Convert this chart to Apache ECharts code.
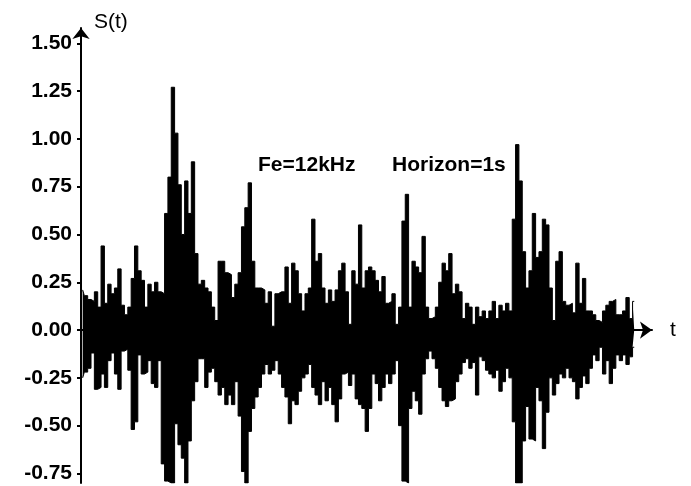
<!DOCTYPE html>
<html><head><meta charset="utf-8">
<script src="https://cdn.jsdelivr.net/npm/echarts@6/dist/echarts.min.js"></script>
<style>html,body{margin:0;padding:0;background:#fff}#c{width:691px;height:486px}</style>
</head><body><div id="c"></div>
<script>
// Upper and lower envelope of S(t), one value per time slot
const upper = [
0.21,0.18,0.16,0.15,0.2,0.12,0.44,0.14,0.24,0.19,0.22,0.32,0.13,0.08,0.12,0.27,0.44,0.31,0.26,0.12,0.24,0.2,
0.25,0.2,0.19,0.61,0.8,1.27,1.03,0.76,0.5,0.78,0.61,0.88,0.4,0.24,0.26,0.22,0.2,0.12,
0.05,0.36,0.36,0.3,
0.29,0.17,0.24,0.3,0.54,0.64,0.77,0.36,0.22,0.22,0.21,0.14,0.2,0.02,0.19,0.2,0.2,0.33,0.14,0.35,0.31,0.19,0.1,0.19,0.22,0.58,0.36,0.4,0.22,0.14,0.21,0.15,0.21,0.31,0.35,0.2,0.03,0.31,0.24,0.55,0.22,0.31,0.33,0.31,0.26,0.2,
0.28,0.14,0.15,0.19,0.03,0.12,0.57,0.71,0.12,0.36,0.33,0.3,0.49,0.12,0.06,0.07,0.12,0.25,0.35,0.31,0.4,0.19,0.24,0.2,0.06,0.14,0.12,0.03,0.12,0.07,0.1,0.06,0.1,0.15,0.06,0.13,0.1,0.14,0.1,0.58,0.97,0.78,0.41,0.22,0.31,
0.61,0.38,0.41,0.58,0.55,0.22,0.05,0.36,0.41,0.15,0.13,0.14,0.09,0.35,0.14,0.27,0.1,0.1,0.08,0.05,0.04,0.1,0.13,0.15,0.16,0.08,0.08,0.1,0.17,0.06,0.15
];
const lower = [
-0.25,-0.22,-0.2,-0.12,-0.31,-0.3,-0.23,-0.3,-0.16,-0.12,-0.23,-0.31,-0.11,-0.1,-0.21,-0.52,-0.48,-0.13,-0.23,-0.22,-0.16,-0.28,
-0.3,-0.16,-0.7,-0.79,-0.8,-0.8,-0.49,-0.6,-0.67,-0.8,-0.58,-0.37,-0.27,-0.15,-0.15,-0.3,-0.22,-0.2,
-0.27,-0.34,-0.3,-0.39,
-0.34,-0.39,-0.27,-0.45,-0.74,-0.8,-0.53,-0.41,-0.35,-0.3,-0.23,-0.18,-0.23,-0.21,-0.16,-0.23,-0.3,-0.35,-0.49,-0.37,-0.39,-0.32,-0.25,-0.23,-0.18,-0.3,-0.34,-0.39,-0.27,-0.37,-0.3,-0.39,-0.48,-0.36,-0.23,-0.22,-0.29,-0.23,-0.36,-0.39,-0.41,-0.53,-0.41,-0.23,-0.28,-0.37,
-0.3,-0.23,-0.28,-0.23,-0.16,-0.5,-0.79,-0.8,-0.41,-0.32,-0.37,-0.44,-0.23,-0.15,-0.11,-0.15,-0.2,-0.3,-0.37,-0.4,-0.37,-0.36,-0.27,-0.23,-0.17,-0.15,-0.2,-0.17,-0.34,-0.14,-0.16,-0.21,-0.23,-0.25,-0.21,-0.32,-0.27,-0.2,-0.25,-0.48,-0.8,-0.8,-0.58,-0.4,-0.57,
-0.58,-0.3,-0.37,-0.62,-0.43,-0.25,-0.34,-0.28,-0.23,-0.25,-0.2,-0.25,-0.27,-0.36,-0.3,-0.24,-0.28,-0.2,-0.13,-0.16,-0.09,-0.23,-0.16,-0.28,-0.2,-0.13,-0.16,-0.13,-0.18,-0.14,-0.09
];
const yTicks = [-0.75,-0.5,-0.25,0,0.25,0.5,0.75,1,1.25,1.5];
const yName = 'S(t)';
const xName = 't';
const notes = ['Fe=12kHz', 'Horizon=1s'];

const N = upper.length;
const tVals = upper.map((_, i) => (i + 0.5) / N); // horizon = 1 s
const FONT = 'Liberation Sans';
const txt = {fontFamily: FONT, fontSize: 21, fontWeight: 'bold', color: '#000'};

function envelope(vals) {
  return {
    type: 'line', step: 'middle', showSymbol: false, silent: true,
    data: tVals.map((x, i) => [x, vals[i]]),
    lineStyle: {color: '#000', width: 1},
    areaStyle: {color: '#000', opacity: 1, origin: 0}
  };
}

const chart = echarts.init(document.getElementById('c'), null, {renderer: 'canvas'});
chart.setOption({
  animation: false,
  backgroundColor: '#fff',
  title: [
    {text: notes[0], left: 258, top: 155, padding: 0, textStyle: txt},
    {text: notes[1], left: 392, top: 155, padding: 0, textStyle: txt}
  ],
  grid: {left: 81, top: 28, width: 571, height: 455, outerBoundsMode: 'none', containLabel: false},
  xAxis: {
    type: 'value', min: 0, max: 1.029,
    name: xName, nameLocation: 'end', nameGap: 18,
    nameTextStyle: {fontFamily: FONT, fontSize: 21, color: '#000', align: 'left', verticalAlign: 'middle'},
    axisLine: {onZero: true, symbol: ['none', 'arrow'], symbolSize: [13, 12], lineStyle: {color: '#000', width: 2}},
    axisTick: {show: false}, axisLabel: {show: false}, splitLine: {show: false}
  },
  yAxis: {
    type: 'value', min: -0.8, max: 1.58,
    name: yName, nameLocation: 'end', nameGap: 6,
    nameTextStyle: {fontFamily: FONT, fontSize: 21, color: '#000', align: 'left', verticalAlign: 'middle', padding: [0, 0, 0, 13]},
    axisLine: {show: true, onZero: false, symbol: ['none', 'arrow'], symbolSize: [13, 11], lineStyle: {color: '#000', width: 2}},
    axisTick: {show: true, customValues: yTicks, length: 4, lineStyle: {color: '#000', width: 2}},
    axisLabel: {customValues: yTicks, formatter: v => v.toFixed(2), margin: 9, ...txt},
    splitLine: {show: false}
  },
  series: [envelope(upper), envelope(lower)]
});
</script>
</body></html>
